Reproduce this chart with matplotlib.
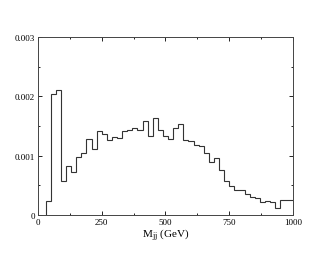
import matplotlib
matplotlib.use("Agg")
import matplotlib.pyplot as plt
from matplotlib.ticker import MultipleLocator
import numpy as np

# histogram bins: 20 GeV wide, starting at 30 GeV
bin_edges = np.arange(30, 1011, 20)
counts = [
    0.00024, 0.00204, 0.00210, 0.00057, 0.00082, 0.00072, 0.00097, 0.00105,
    0.00128, 0.00111, 0.00142, 0.00137, 0.00126, 0.00131, 0.00129, 0.00141,
    0.00143, 0.00147, 0.00143, 0.00158, 0.00133, 0.00163, 0.00144, 0.00133,
    0.00128, 0.00147, 0.00153, 0.00126, 0.00125, 0.00118, 0.00116, 0.00104,
    0.00090, 0.00096, 0.00076, 0.00058, 0.00049, 0.00042, 0.00042, 0.00035,
    0.00030, 0.00028, 0.00022, 0.00023, 0.00022, 0.00011, 0.00025, 0.00025,
    0.00025,
]
x_ticks = [0, 250, 500, 750, 1000]
y_ticks = [0, 0.001, 0.002, 0.003]
y_ticklabels = ["0", "0.001", "0.002", "0.003"]

plt.rcParams["font.family"] = ["Liberation Serif", "DejaVu Serif"]
plt.rcParams["mathtext.fontset"] = "stix"

fig = plt.figure(figsize=(3.3, 2.55), dpi=100)
ax = fig.add_axes([0.115, 0.153, 0.773, 0.698])

ax.stairs(counts, bin_edges, baseline=0, color="#333333", linewidth=0.8)

ax.set_xlim(0, 1000)
ax.set_ylim(0, 0.003)
ax.set_xticks(x_ticks)
ax.set_xticklabels([str(t) for t in x_ticks])
ax.set_yticks(y_ticks)
ax.set_yticklabels(y_ticklabels)
ax.xaxis.set_minor_locator(MultipleLocator(125))
ax.yaxis.set_minor_locator(MultipleLocator(0.0005))

ax.tick_params(which="both", direction="in", top=True, right=True,
               labelsize=6.5, width=0.6, pad=2)
ax.tick_params(which="major", length=3)
ax.tick_params(which="minor", length=1.5)
for s in ax.spines.values():
    s.set_linewidth(0.7)
    s.set_color("#444444")

ax.set_xlabel(r"M$_{\rm jj}$ (GeV)", fontsize=8, labelpad=0)

fig.savefig("out.png", dpi=100)
